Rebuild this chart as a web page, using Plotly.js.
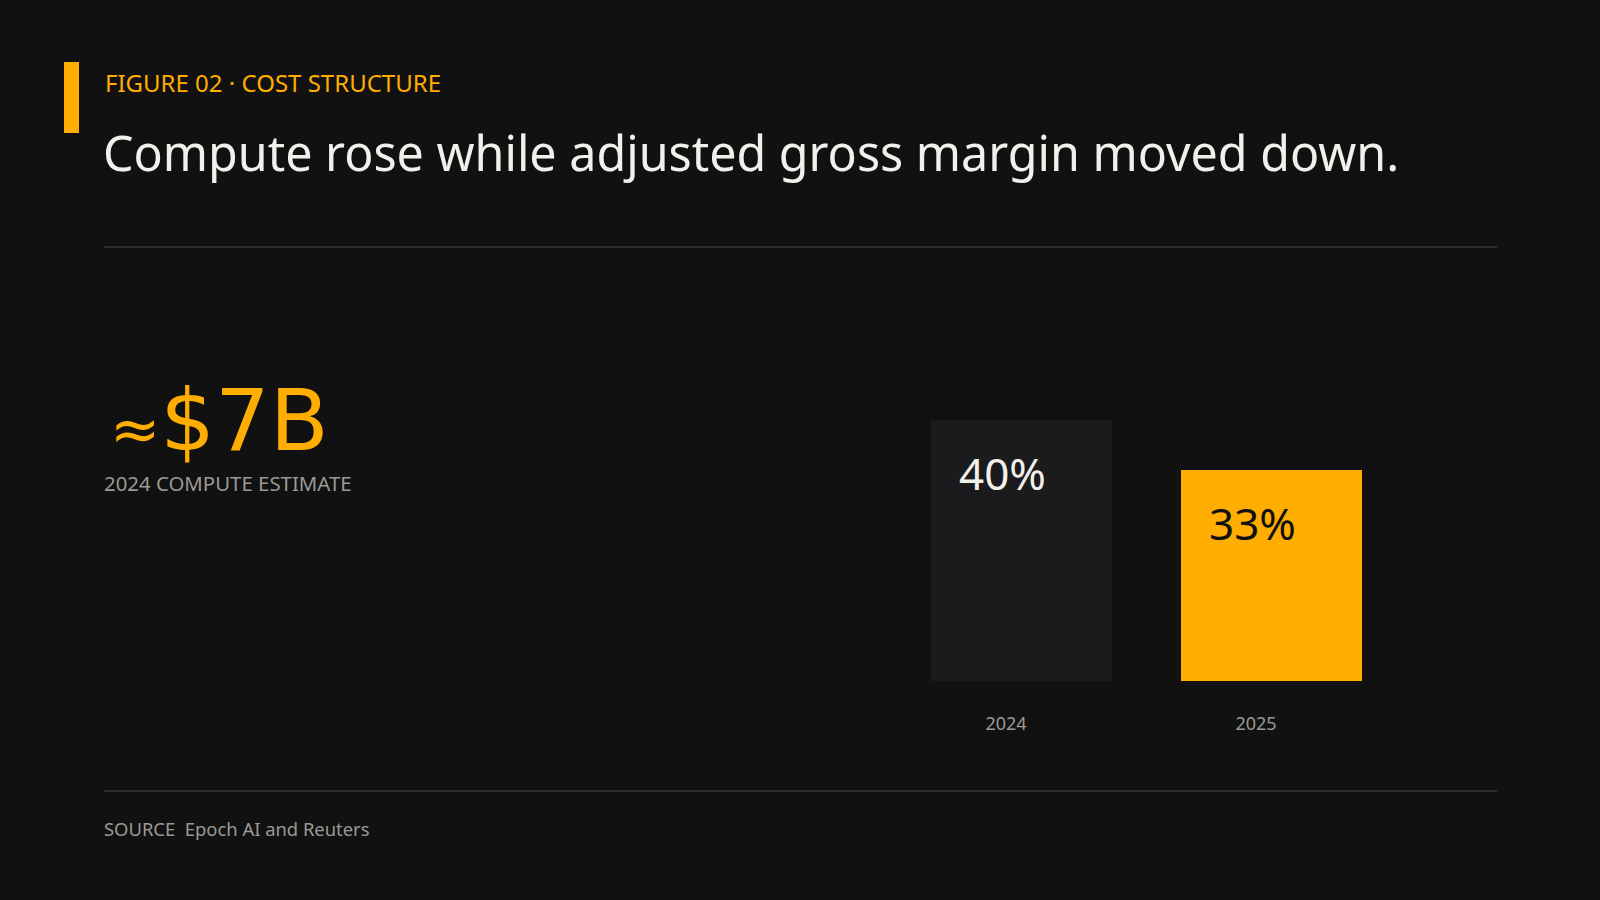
<!DOCTYPE html>
<html>
<head>
<meta charset="utf-8">
<script src="https://cdn.plot.ly/plotly-3.0.1.min.js"></script>
<style>
  html, body { margin:0; padding:0; background:#111111; }
  #chart { width:1600px; height:900px; }
</style>
</head>
<body>
<div id="chart"></div>
<script>
(function(){
  // --------- Data ---------
  const years        = ['2024', '2025'];
  const grossMargin  = [40, 33];           // adjusted gross margin, %
  const computeValue = '$7B';              // 2024 compute estimate
  const computeNote  = '2024 COMPUTE ESTIMATE';

  // --------- Style ---------
  const BG     = '#111111';
  const ORANGE = '#ffad00';
  const INK    = '#f2f0ea';
  const MUTED  = '#9a9a94';
  const RULE   = '#3a3a36';
  const FONT   = '"Noto Sans", "Open Sans", sans-serif';
  const NUM_FONT = '"DejaVu Sans", sans-serif';
  const barColors  = ['#1b1b1d', ORANGE];
  const textColors = [INK, '#111111'];

  const W = 1600, H = 900;
  const px = x => x / W;
  const py = y => 1 - y / H;

  const BAR_W = 0.724;    // share of category slot
  const BAR_OFF = -0.302; // bars sit slightly right of the tick

  const trace = {
    type:'bar', x: years, y: grossMargin,
    width: years.map(()=>BAR_W), offset: years.map(()=>BAR_OFF),
    marker:{ color: barColors, line:{width:0} },
    hoverinfo:'skip'
  };

  const txt = (text, x, y, size, color, extra) => Object.assign({
    text, x: px(x), y: py(y), xref:'paper', yref:'paper',
    xanchor:'left', yanchor:'middle', showarrow:false,
    font:{family:FONT, size, color}
  }, extra||{});

  const annotations = [
    txt('FIGURE 02 \u00b7 COST STRUCTURE', 103, 83, 24, ORANGE),
    txt('Compute rose while adjusted gross margin moved down.', 101, 152, 48.4, INK),
    txt('<span style="font-size:60px">\u2248</span>' + computeValue, 108, 420, 86, ORANGE,
        {font:{family:NUM_FONT, size:86, color:ORANGE}}),
    txt(computeNote, 102, 483, 20.4, MUTED),
    txt('SOURCE\u00a0 Epoch AI and Reuters', 102, 828, 18.4, MUTED),
    // value labels inside bars
    ...years.map((yr,i)=>({
      text: grossMargin[i] + '%', x: i, y: grossMargin[i], xref:'x', yref:'y',
      xanchor:'left', yanchor:'middle', xshift:-49, yshift:-53, showarrow:false,
      font:{family:FONT, size:44, color:textColors[i]}
    }))
  ];

  const shapes = [
    {type:'rect', xref:'paper', yref:'paper', x0:px(64), x1:px(79), y0:py(133), y1:py(62),
     fillcolor:ORANGE, line:{width:0}},
    {type:'line', xref:'paper', yref:'paper', x0:px(104), x1:px(1497), y0:py(247), y1:py(247),
     line:{color:RULE, width:1.5}},
    {type:'line', xref:'paper', yref:'paper', x0:px(104), x1:px(1497), y0:py(791), y1:py(791),
     line:{color:RULE, width:1.5}}
  ];

  const layout = {
    width:W, height:H,
    margin:{t:0,r:0,b:0,l:0},
    paper_bgcolor:BG, plot_bgcolor:BG,
    showlegend:false, bargap:0,
    xaxis:{
      type:'category', range:[-0.5, 1.5], domain:[px(881), px(1381)],
      showgrid:false, zeroline:false, showline:false, ticks:'',
      tickfont:{family:FONT, size:18, color:MUTED}, ticklabelstandoff:30,
      fixedrange:true
    },
    yaxis:{
      range:[3.5, 50], domain:[py(681), py(349)],
      visible:false, fixedrange:true
    },
    annotations, shapes,
    font:{family:FONT}
  };

  Plotly.newPlot('chart', [trace], layout, {displayModeBar:false, staticPlot:true});
})();
</script>
</body>
</html>
